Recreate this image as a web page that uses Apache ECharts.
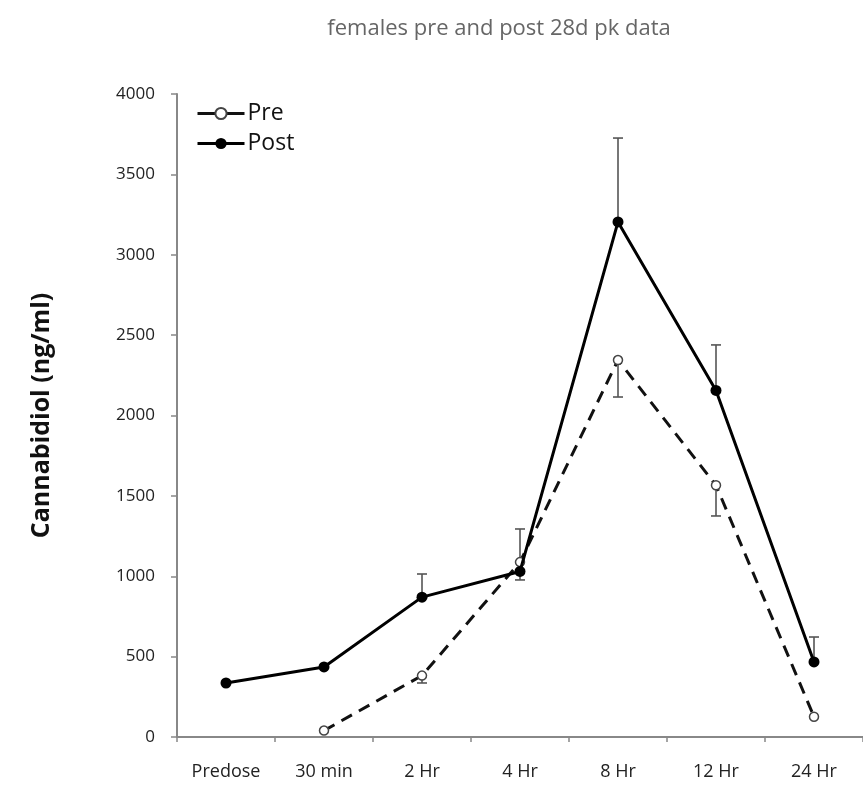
<!DOCTYPE html>
<html>
<head>
<meta charset="utf-8">
<script src="https://cdn.jsdelivr.net/npm/echarts@6/dist/echarts.min.js"></script>
<style>html,body{margin:0;padding:0;background:#fff}#c{width:863px;height:787px}</style>
</head>
<body>
<div id="c"></div>
<script>
const categories = ['Predose', '30 min', '2 Hr', '4 Hr', '8 Hr', '12 Hr', '24 Hr'];
const preValues = [null, 40, 382, 1088, 2345, 1566, 126];
const preErrEnd = [null, null, 336, 1294, 2115, 1375, null];
const postValues = [336, 436, 870, 1030, 3204, 2156, 467];
const postErrEnd = [null, null, 1014, 977, 3726, 2439, 622];
const yTicks = [0, 500, 1000, 1500, 2000, 2500, 3000, 3500, 4000];

const chart = echarts.init(document.getElementById('c'));

function errData(vals, ends) {
  const out = [];
  vals.forEach((v, i) => { if (v != null && ends[i] != null) out.push([i, v, ends[i]]); });
  return out;
}
function errRender(params, api) {
  const x = api.value(0);
  const p0 = api.coord([x, api.value(1)]);
  const p1 = api.coord([x, api.value(2)]);
  const half = 5;
  const st = { stroke: '#555', lineWidth: 1.6 };
  return {
    type: 'group',
    children: [
      { type: 'line', shape: { x1: p0[0], y1: p0[1], x2: p1[0], y2: p1[1] }, style: st },
      { type: 'line', shape: { x1: p1[0] - half, y1: p1[1], x2: p1[0] + half, y2: p1[1] }, style: st }
    ]
  };
}

chart.setOption({
  animation: false,
  title: {
    text: 'females pre and post 28d pk data',
    left: 494, top: 13, textAlign: 'center',
    textStyle: { fontFamily: 'Open Sans', fontSize: 22, fontWeight: 'normal', color: '#666' }
  },
  legend: {
    orient: 'vertical', left: 191, top: 97, itemGap: 7,
    itemWidth: 47, itemHeight: 14,
    textStyle: { fontFamily: 'Open Sans', fontSize: 23, color: '#111', padding: [0, 0, 0, -2] },
    data: [
      { name: 'Pre', lineStyle: { type: 'solid', width: 3 } },
      { name: 'Post', lineStyle: { type: 'solid', width: 3 } }
    ]
  },
  grid: { left: 177, top: 94, bottom: 50, width: 693 },
  xAxis: {
    type: 'category', data: categories, boundaryGap: true,
    axisLine: { lineStyle: { color: '#888', width: 2 } },
    axisTick: { show: true, length: 5, lineStyle: { color: '#888', width: 1.5 } },
    axisLabel: { fontFamily: 'Open Sans', fontSize: 18, color: '#222', margin: 26 }
  },
  yAxis: {
    type: 'value', min: 0, max: 4000, interval: 500,
    name: 'Cannabidiol (ng/ml)', nameLocation: 'middle', nameGap: 123,
    nameTextStyle: { fontFamily: 'Open Sans', fontSize: 25, fontWeight: 'bold', color: '#111' },
    axisLine: { show: true, lineStyle: { color: '#888', width: 2 } },
    axisTick: { show: true, length: 6, lineStyle: { color: '#888', width: 1.5 } },
    splitLine: { show: false },
    axisLabel: {
      fontFamily: 'Open Sans', fontSize: 17, color: '#222', margin: 22,
      formatter: v => yTicks.indexOf(v) >= 0 ? String(v) : ''
    }
  },
  series: [
    {
      name: 'PreErr', type: 'custom', renderItem: errRender,
      data: errData(preValues, preErrEnd), z: 1, silent: true
    },
    {
      name: 'PostErr', type: 'custom', renderItem: errRender,
      data: errData(postValues, postErrEnd), z: 1, silent: true
    },
    {
      name: 'Pre', type: 'line', data: preValues, connectNulls: false,
      symbol: 'circle', symbolSize: 9,
      itemStyle: { color: '#fff', borderColor: '#444', borderWidth: 1.5 },
      lineStyle: { color: '#111', width: 3, type: [12, 8] },
      z: 3
    },
    {
      name: 'Post', type: 'line', data: postValues,
      symbol: 'circle', symbolSize: 11,
      itemStyle: { color: '#000', borderColor: '#000', borderWidth: 0 },
      lineStyle: { color: '#000', width: 3 },
      z: 4
    }
  ]
});
</script>
</body>
</html>
